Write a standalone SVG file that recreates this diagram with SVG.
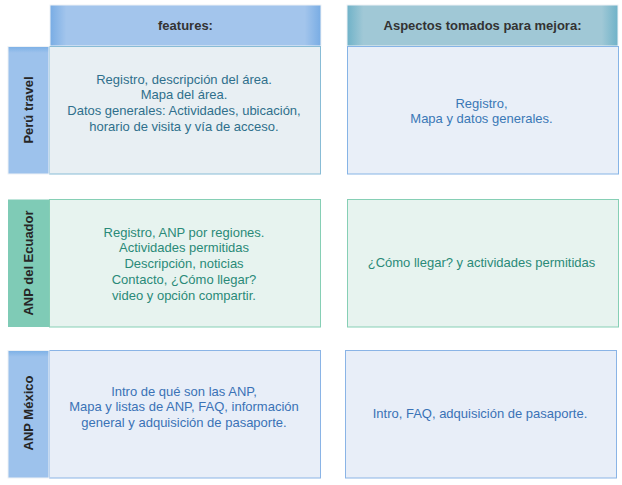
<svg xmlns="http://www.w3.org/2000/svg" width="622" height="485" viewBox="0 0 622 485">
<defs>
<linearGradient id="hb" x1="0" y1="0" x2="1" y2="0">
<stop offset="0" stop-color="#78ace4"/><stop offset="0.06" stop-color="#a3c5ec"/><stop offset="0.94" stop-color="#a3c5ec"/><stop offset="1" stop-color="#78ace4"/>
</linearGradient>
<linearGradient id="ht" x1="0" y1="0" x2="1" y2="0">
<stop offset="0" stop-color="#6fb2c8"/><stop offset="0.06" stop-color="#a0c8d6"/><stop offset="0.94" stop-color="#a0c8d6"/><stop offset="1" stop-color="#6fb2c8"/>
</linearGradient>
<linearGradient id="lb" x1="0" y1="0" x2="0" y2="1">
<stop offset="0" stop-color="#7cb0e6"/><stop offset="0.05" stop-color="#9dc2ec"/><stop offset="1" stop-color="#9dc2ec"/>
</linearGradient>
</defs>
<style>
.hd{font-family:"Liberation Sans",Arial,sans-serif;font-size:13px;font-weight:bold;fill:#333;text-anchor:middle}
.lb{font-family:"Liberation Sans",Arial,sans-serif;font-size:13px;font-weight:bold;fill:#262626;text-anchor:middle}
.tx{font-family:"Liberation Sans",Arial,sans-serif;font-size:13px;text-anchor:middle}
.c1{fill:#2f6f8c}.c2{fill:#3a78b6}.c3{fill:#2a8a78}.c4{fill:#3a72b6}
</style>
<g id="header-features">
<rect x="50" y="5" width="271" height="41" fill="url(#hb)" stroke="#eef2f6" stroke-width="1"/>
<text class="hd" x="185.5" y="30">features:</text>
</g>
<g id="header-aspectos">
<rect x="347" y="5" width="271" height="41" fill="url(#ht)" stroke="#eef2f6" stroke-width="1"/>
<text class="hd" x="482.5" y="30">Aspectos tomados para mejora:</text>
</g>
<g id="row-peru">
<rect x="49.5" y="46.5" width="271" height="127.5" fill="#e8eff3" stroke="#88bcd6"/>
<rect x="8" y="46.5" width="41" height="127.5" fill="url(#lb)" stroke="#eef2f6"/>
<text class="lb" transform="translate(33,110) rotate(-90)">Perú travel</text>
<text class="tx c1" x="184" y="83.5">Registro, descripción del área.</text>
<text class="tx c1" x="184" y="99">Mapa del área.</text>
<text class="tx c1" x="184" y="114.5">Datos generales: Actividades, ubicación,</text>
<text class="tx c1" x="184" y="130.5">horario de visita y vía de acceso.</text>
</g>
<g id="peru-mejora">
<rect x="347.5" y="46.5" width="271" height="127.5" fill="#e9eff8" stroke="#86b4e6"/>
<text class="tx c2" x="481.5" y="107.5">Registro,</text>
<text class="tx c2" x="481.5" y="123">Mapa y datos generales.</text>
</g>
<g id="row-ecuador">
<rect x="49.5" y="199.5" width="271" height="127.5" fill="#e7f3ef" stroke="#86cfb5"/>
<rect x="8" y="199.5" width="41" height="127.5" fill="#7fcbb6"/>
<text class="lb" transform="translate(33,263) rotate(-90)" textLength="105" lengthAdjust="spacingAndGlyphs">ANP del Ecuador</text>
<text class="tx c3" x="184" y="236.5">Registro, ANP por regiones.</text>
<text class="tx c3" x="184" y="252">Actividades permitidas</text>
<text class="tx c3" x="184" y="267.5">Descripción, noticias</text>
<text class="tx c3" x="184" y="283.5">Contacto, ¿Cómo llegar?</text>
<text class="tx c3" x="184" y="299.5">video y opción compartir.</text>
</g>
<g id="ecuador-mejora">
<rect x="347.5" y="199.5" width="271" height="127.5" fill="#e7f3ef" stroke="#86cfb5"/>
<text class="tx c3" x="481.5" y="267">¿Cómo llegar? y actividades permitidas</text>
</g>
<g id="row-mexico">
<rect x="49.5" y="350.5" width="271" height="127.5" fill="#e8eef8" stroke="#8ab4e6"/>
<rect x="8" y="350.5" width="41" height="127.5" fill="url(#lb)" stroke="#eef2f6"/>
<text class="lb" transform="translate(33,413) rotate(-90)">ANP México</text>
<text class="tx c4" x="184" y="395.5">Intro de qué son las ANP,</text>
<text class="tx c4" x="184" y="411">Mapa y listas de ANP, FAQ, información</text>
<text class="tx c4" x="184" y="427">general y adquisición de pasaporte.</text>
</g>
<g id="mexico-mejora">
<rect x="345.5" y="350.5" width="271" height="127.5" fill="#e8eef8" stroke="#8ab4e6"/>
<text class="tx c4" x="480" y="417.5">Intro, FAQ, adquisición de pasaporte.</text>
</g>
<g id="connectors"/>
</svg>
